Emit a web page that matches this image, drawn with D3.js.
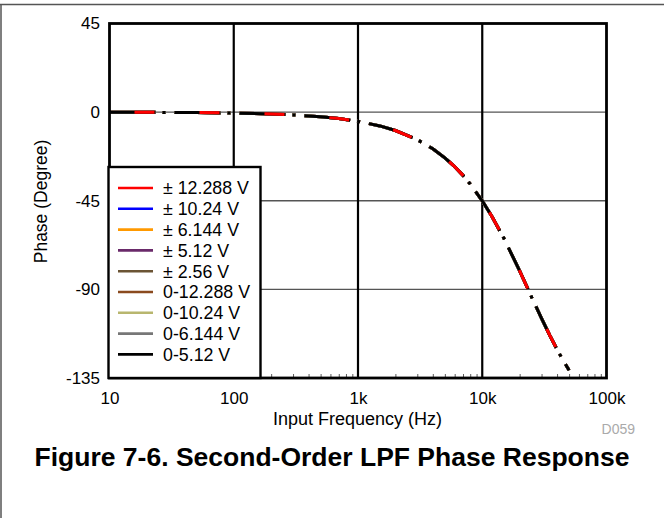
<!DOCTYPE html>
<html>
<head>
<meta charset="utf-8">
<script src="https://cdn.jsdelivr.net/npm/d3@7/dist/d3.min.js"></script>
<style>
  html, body { margin: 0; padding: 0; background: #fff; }
  svg { display: block; font-family: "Liberation Sans", Arial, Helvetica, sans-serif; }
</style>
</head>
<body>
<svg id="chart" width="664" height="518"></svg>
<script>
// ---- data ----
const freqHz = [10, 20, 50, 100, 200, 300, 500, 700, 1000, 1500, 2000, 3000, 4000, 5000, 6000, 7000, 8000, 10000, 12000, 15000, 20000, 25000, 30000, 35000, 40000, 45000, 50000];
const phaseDeg = [-0.05, -0.09, -0.23, -0.47, -0.94, -1.4, -2.34, -3.28, -4.7, -7.0, -9.35, -14.0, -18.6, -23.2, -27.7, -32.1, -36.5, -45.0, -53.1, -64.3, -80.6, -94.0, -104.7, -113.4, -120.5, -126.3, -131.1];
const seriesNames = ["\u00B1 12.288 V", "\u00B1 10.24 V", "\u00B1 6.144 V", "\u00B1 5.12 V", "\u00B1 2.56 V", "0-12.288 V", "0-10.24 V", "0-6.144 V", "0-5.12 V"];
const seriesColors = ["#ff0000", "#0000ff", "#ff9900", "#6a2a6a", "#6b5434", "#8a4a1e", "#b8b66e", "#777777", "#000000"];
const xTickValues = [10, 100, 1000, 10000, 100000];
const xTickLabels = ["10", "100", "1k", "10k", "100k"];
const yTickValues = [45, 0, -45, -90, -135];
const yTickLabels = ["45", "0", "-45", "-90", "-135"];
const xTitle = "Input Frequency (Hz)";
const yTitle = "Phase (Degree)";
const figTitle = "Figure 7-6. Second-Order LPF Phase Response";
const docId = "D059";

// ---- layout ----
const L = 109.5, R = 606.5, T = 23.5, B = 378;
const svg = d3.select("#chart");

// page border lines (top and left)
svg.append("line").attr("x1", 0).attr("x2", 664).attr("y1", 4.5).attr("y2", 4.5)
  .attr("stroke", "#555").attr("stroke-width", 1.5);
svg.append("line").attr("x1", 1).attr("x2", 1).attr("y1", 4.5).attr("y2", 518)
  .attr("stroke", "#555").attr("stroke-width", 1.5);

const x = d3.scaleLog().domain([10, 100000]).range([L, R]);
const y = d3.scaleLinear().domain([-135, 45]).range([B, T]);

// horizontal grid
svg.append("g").selectAll("line").data(yTickValues.filter(v => v !== 45 && v !== -135)).join("line")
  .attr("x1", L).attr("x2", R).attr("y1", d => y(d)).attr("y2", d => y(d))
  .attr("stroke", "#555").attr("stroke-width", 1.3);
// vertical grid
svg.append("g").selectAll("line").data(xTickValues.slice(1, -1)).join("line")
  .attr("x1", d => x(d)).attr("x2", d => x(d)).attr("y1", T).attr("y2", B)
  .attr("stroke", "#000").attr("stroke-width", 2.2);

// minor ticks along bottom
const minor = [];
for (let dec = 10; dec < 100000; dec *= 10) for (let m = 2; m <= 9; m++) minor.push(dec * m);
const minorAxis = d3.axisBottom(x).tickValues(minor).tickSize(-4).tickFormat("");
const mg = svg.append("g").attr("transform", `translate(0,${B})`).call(minorAxis);
mg.select(".domain").remove();
mg.selectAll("line").attr("stroke", "#333").attr("stroke-width", 0.8);

// curves
const line = d3.line().x((d, i) => x(freqHz[i])).y(d => y(d));
const curveG = svg.append("g");
const order = [1, 2, 3, 4, 5, 6, 7, 8, 0];
order.forEach(k => {
  const p = curveG.append("path").datum(phaseDeg)
    .attr("d", line).attr("fill", "none")
    .attr("stroke", seriesColors[k]).attr("stroke-width", 3);
  if (k === 0) {
    p.attr("stroke-dasharray", "20,45").attr("stroke-dashoffset", -25);
  } else {
    p.attr("stroke-dasharray", "46,7,3,9");
  }
});

// frame
svg.append("rect").attr("x", L).attr("y", T).attr("width", R - L).attr("height", B - T)
  .attr("fill", "none").attr("stroke", "#000").attr("stroke-width", 2.8);

// legend
const lg = svg.append("g");
lg.append("rect").attr("x", 108.5).attr("y", 167).attr("width", 152).attr("height", 211)
  .attr("fill", "#fff").attr("stroke", "#000").attr("stroke-width", 2.4);
seriesNames.forEach((name, i) => {
  const yy = 188 + i * 20.8;
  lg.append("line").attr("x1", 118).attr("x2", 153).attr("y1", yy).attr("y2", yy)
    .attr("stroke", seriesColors[i]).attr("stroke-width", 2.6);
  lg.append("text").attr("x", 163).attr("y", yy).attr("dy", "0.36em")
    .attr("font-size", 17.8).attr("fill", "#000").text(name);
});

// x axis labels
const xAxis = d3.axisBottom(x).tickValues(xTickValues).tickSize(0)
  .tickFormat((d, i) => xTickLabels[i]);
const xg = svg.append("g").attr("transform", `translate(0,${B})`).call(xAxis);
xg.select(".domain").remove();
xg.selectAll("text").attr("font-size", 17).attr("fill", "#000")
  .attr("font-family", "'Liberation Sans', Arial, sans-serif").attr("y", 14).attr("dy", "0.71em");

// y axis labels
const yAxis = d3.axisLeft(y).tickValues(yTickValues).tickSize(0)
  .tickFormat((d, i) => yTickLabels[i]);
const yg = svg.append("g").attr("transform", `translate(${L},0)`).call(yAxis);
yg.select(".domain").remove();
yg.selectAll("text").attr("font-size", 17).attr("fill", "#000")
  .attr("font-family", "'Liberation Sans', Arial, sans-serif").attr("x", -9.5);

// titles
svg.append("text").attr("x", 357.5).attr("y", 425).attr("text-anchor", "middle")
  .attr("font-size", 18).attr("fill", "#000").text(xTitle);
svg.append("text").attr("transform", "translate(47,201.5) rotate(-90)").attr("text-anchor", "middle")
  .attr("font-size", 17.5).attr("fill", "#000").text(yTitle);
svg.append("text").attr("x", 635).attr("y", 434).attr("text-anchor", "end")
  .attr("font-size", 14).attr("fill", "#aaa").text(docId);
svg.append("text").attr("x", 332).attr("y", 466).attr("text-anchor", "middle")
  .attr("font-size", 26.5).attr("font-weight", "bold").attr("fill", "#000").text(figTitle);
</script>
</body>
</html>
